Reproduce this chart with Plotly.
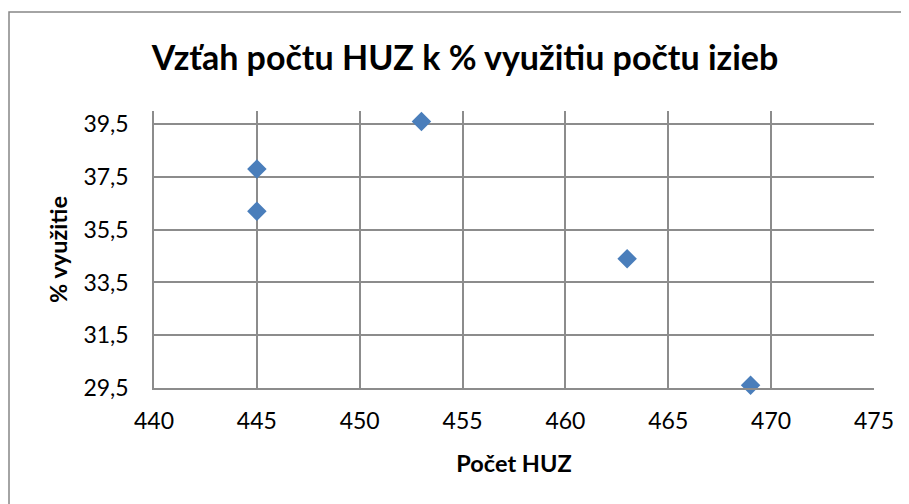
import plotly.graph_objects as go

pocet_huz = [445, 445, 453, 463, 469]
vyuzitie = [37.8, 36.2, 39.6, 34.4, 29.6]
x_ticks = [440, 445, 450, 455, 460, 465, 470, 475]
y_ticks = [29.5, 31.5, 33.5, 35.5, 37.5, 39.5]

title_text = "Vzťah počtu HUZ k % využitiu počtu izieb"
x_title = "Počet HUZ"
y_title = "% využitie"

grid = "#8c8c8c"
font_family = "Lato, Carlito, Calibri, sans-serif"

# figure is placed at (8, 8) by the page's default body margin
W, H = 901, 496
L, T, PW, PH = 146, 103, 720, 277

fig = go.Figure()
fig.add_trace(go.Scatter(
    x=pocet_huz, y=vyuzitie, mode="markers", cliponaxis=False,
    marker=dict(symbol="diamond", size=15, color="#4A7EBB", line=dict(width=0)),
    showlegend=False, hoverinfo="x+y",
))

fig.update_layout(
    width=W, height=H,
    margin=dict(l=L, r=W - L - PW, t=T, b=H - T - PH),
    paper_bgcolor="white", plot_bgcolor="white",
    separators=", ",
    font=dict(family=font_family, size=23, color="black"),
    title=dict(text="<b>" + title_text + "</b>", x=457 / W, xanchor="center",
               y=1 - 50 / H, yanchor="middle",
               font=dict(family=font_family, size=34, color="black")),
    xaxis=dict(range=[440, 475], tickvals=x_ticks, ticktext=[str(v) for v in x_ticks],
               showgrid=True, gridcolor=grid, gridwidth=1.5,
               showline=True, linecolor=grid, linewidth=1.5,
               zeroline=False, ticks="outside", ticklen=12, tickcolor="rgba(0,0,0,0)",
               title=dict(text="<b>" + x_title + "</b>", standoff=22,
                          font=dict(family=font_family, size=23.5))),
    yaxis=dict(range=[29.5, 40.0], tickvals=y_ticks,
               ticktext=[f"{v:.1f}".replace(".", ",") for v in y_ticks],
               showgrid=True, gridcolor=grid, gridwidth=1.5,
               showline=True, linecolor=grid, linewidth=1.5,
               zeroline=False, ticks="outside", ticklen=19, tickcolor="rgba(0,0,0,0)",
               title=dict(text="<b>" + y_title + "</b>", standoff=9,
                          font=dict(family=font_family, size=23.5))),
    shapes=[dict(type="rect", xref="paper", yref="paper",
                 x0=(1 - L) / PW, x1=(W + 20 - L) / PW,
                 y0=-(H + 20 - T - PH) / PH, y1=(PH + T - 4) / PH,
                 line=dict(color="#868686", width=1.5), fillcolor="rgba(0,0,0,0)",
                 layer="below")],
)

fig.write_html("out.html")
